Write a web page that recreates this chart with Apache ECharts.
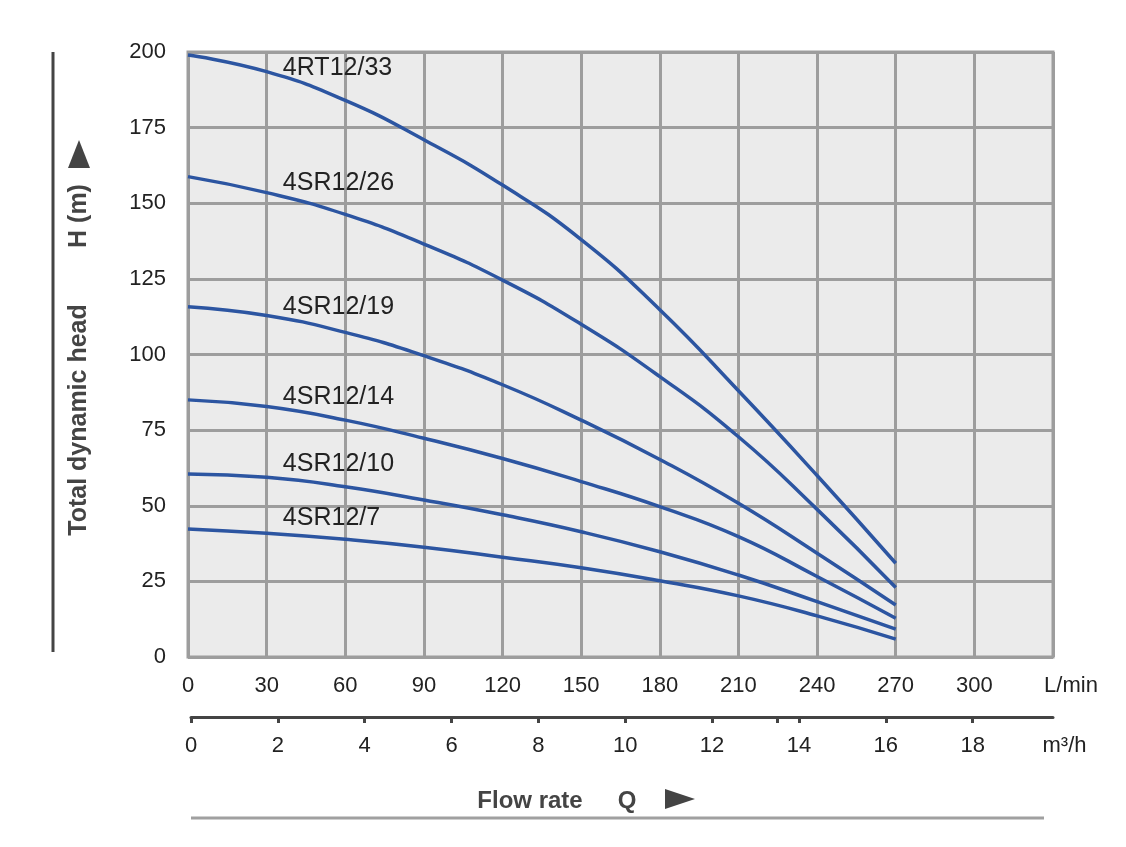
<!DOCTYPE html>
<html>
<head>
<meta http-equiv="Content-Type" content="text/html;charset=utf-8">
<title>pump curves</title>
<style type="text/css">
html,body{
	margin: 0;
	padding: 0;
	background-color: #fff;
}
#main {
	width: 1126px;
	height: 847px;
}
</style>
</head>
<body>
<div id="main"></div>
<script src="https://cdn.jsdelivr.net/npm/echarts@6/dist/echarts.min.js"></script>
<script type="text/javascript">
// flow in L/min, head in m
var flowLmin = [0, 30, 60, 90, 120, 150, 180, 210, 240, 270];
var rt12_33 = [199, 193.5, 184, 171, 156, 138, 114.8, 88, 60, 31];
var sr12_26 = [158.8, 153.5, 146.3, 136.5, 124.6, 110, 92.7, 72.8, 48.8, 23];
var sr12_19 = [115.8, 112.9, 107.3, 99.6, 90, 78.3, 65.3, 50.8, 34.3, 17.2];
var sr12_14 = [85, 82.8, 78.3, 72.3, 65.6, 58, 49.7, 39.8, 26.6, 12.8];
var sr12_10 = [60.5, 59.4, 56.3, 51.9, 47, 41.4, 34.8, 27.1, 18.3, 9.2];
var sr12_7 = [42.3, 40.9, 38.9, 36.3, 33, 29.5, 25.2, 20.2, 13.6, 5.9];

var seriesNames = ['4RT12/33', '4SR12/26', '4SR12/19', '4SR12/14', '4SR12/10', '4SR12/7'];
var seriesValues = [rt12_33, sr12_26, sr12_19, sr12_14, sr12_10, sr12_7];
// where each curve name sits (L/min, m)
var labelX = [36, 36, 36, 36, 36, 36];
var labelY = [194.7, 156.6, 115.8, 86, 63.7, 45.9];

var lminTicks = [0, 30, 60, 90, 120, 150, 180, 210, 240, 270, 300];
var m3hTicks = [0, 2, 4, 6, 8, 10, 12, 14, 16, 18];
var m3hExtraTick = [13.5];
var m3hMax = 19.85;
var headTicks = [0, 25, 50, 75, 100, 125, 150, 175, 200];

var gridColor = '#9d9d9d';
var curveColor = '#2c55a1';
var font = '"Liberation Sans", Arial, sans-serif';

var series = [];
for (var i = 0; i < seriesNames.length; i++) {
	var pts = [];
	for (var j = 0; j < flowLmin.length; j++) {
		pts.push([flowLmin[j], seriesValues[i][j]]);
	}
	series.push({
		name: seriesNames[i],
		type: 'line',
		xAxisIndex: 0,
		yAxisIndex: 0,
		data: pts,
		smooth: 0.5,
		showSymbol: false,
		lineStyle: {color: curveColor, width: 3.5},
		itemStyle: {color: curveColor},
		markPoint: {
			symbol: 'circle',
			symbolSize: 1,
			itemStyle: {color: 'rgba(0,0,0,0)'},
			label: {
				show: true,
				position: 'right',
				distance: 0,
				formatter: seriesNames[i],
				fontSize: 25,
				fontFamily: font,
				color: '#222'
			},
			data: [{coord: [labelX[i], labelY[i]]}]
		}
	});
}

var option = {
	animation: false,
	backgroundColor: '#fff',
	grid: [
		{
			left: 188, right: 73, top: 52, bottom: 190,
			show: true,
			backgroundColor: '#ebebeb',
			borderColor: gridColor,
			borderWidth: 3
		},
		{
			left: 191, right: 73, top: 700, bottom: 130
		}
	],
	xAxis: [
		{
			type: 'value',
			gridIndex: 0,
			min: 0,
			max: 330,
			interval: 30,
			axisLine: {show: false},
			axisTick: {show: false},
			splitLine: {show: true, lineStyle: {color: gridColor, width: 3}},
			axisLabel: {
				margin: 18,
				fontSize: 22,
				fontFamily: font,
				color: '#222',
				formatter: function (v) {
					if (v === 330) return '{u|L/min}';
					return lminTicks.indexOf(v) >= 0 ? String(v) : '';
				},
				rich: {
					u: {fontSize: 22, fontFamily: font, color: '#222', padding: [0, 0, 0, 36]}
				}
			}
		},
		{
			type: 'value',
			gridIndex: 1,
			min: 0,
			max: m3hMax,
			axisLine: {show: true, lineStyle: {color: '#444', width: 3}},
			axisTick: {
				show: true,
				length: 6,
				lineStyle: {color: '#444', width: 3},
				customValues: m3hTicks.concat(m3hExtraTick)
			},
			splitLine: {show: false},
			axisLabel: {
				margin: 18,
				fontSize: 22,
				fontFamily: font,
				color: '#222',
				customValues: m3hTicks.concat([m3hMax]),
				formatter: function (v) {
					if (v === m3hMax) return '{u|m³/h}';
					return String(v);
				},
				rich: {
					u: {fontSize: 22, fontFamily: font, color: '#222', padding: [0, 0, 0, 23]}
				}
			}
		}
	],
	yAxis: [
		{
			type: 'value',
			gridIndex: 0,
			min: headTicks[0],
			max: headTicks[headTicks.length - 1],
			interval: 25,
			axisLine: {show: false},
			axisTick: {show: false},
			splitLine: {show: true, lineStyle: {color: gridColor, width: 3}},
			axisLabel: {margin: 22, fontSize: 22, fontFamily: font, color: '#222'}
		},
		{
			type: 'value',
			gridIndex: 1,
			show: false
		}
	],
	graphic: [
		{
			type: 'line',
			shape: {x1: 53, y1: 52, x2: 53, y2: 652},
			style: {stroke: '#444', lineWidth: 3}
		},
		{
			type: 'text',
			x: 79, y: 420,
			rotation: Math.PI / 2,
			style: {
				text: 'Total dynamic head',
				font: 'bold 25px ' + font,
				fill: '#444',
				align: 'center',
				verticalAlign: 'middle'
			}
		},
		{
			type: 'text',
			x: 79, y: 216,
			rotation: Math.PI / 2,
			style: {
				text: 'H (m)',
				font: 'bold 25px ' + font,
				fill: '#444',
				align: 'center',
				verticalAlign: 'middle'
			}
		},
		{
			type: 'polygon',
			shape: {points: [[68, 168], [79, 140], [90, 168]]},
			style: {fill: '#444'}
		},
		{
			type: 'text',
			x: 530, y: 801,
			style: {
				text: 'Flow rate',
				font: 'bold 24px ' + font,
				fill: '#444',
				align: 'center',
				verticalAlign: 'middle'
			}
		},
		{
			type: 'text',
			x: 627, y: 801,
			style: {
				text: 'Q',
				font: 'bold 24px ' + font,
				fill: '#444',
				align: 'center',
				verticalAlign: 'middle'
			}
		},
		{
			type: 'polygon',
			shape: {points: [[665, 789], [695, 799], [665, 809]]},
			style: {fill: '#444'}
		},
		{
			type: 'line',
			shape: {x1: 191, y1: 818, x2: 1044, y2: 818},
			style: {stroke: '#a0a0a0', lineWidth: 3}
		}
	],
	series: series
};

var myChart = echarts.init(document.getElementById('main'));
myChart.setOption(option);
</script>
</body>
</html>
